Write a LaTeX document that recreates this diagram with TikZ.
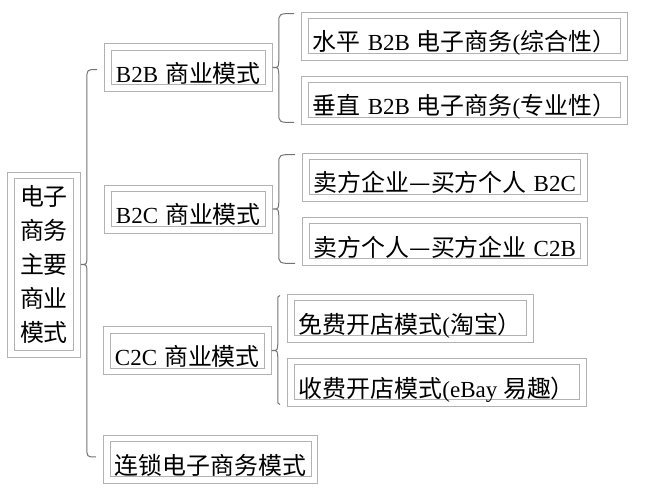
\documentclass[tikz,border=0pt]{standalone}
\usepackage{fontspec}
\setmainfont{Liberation Serif}
\newfontfamily\cjk{Noto Sans CJK SC}[Scale=1.04]
\usetikzlibrary{calc}

% wider gap between latin and chinese words
\newcommand{\gp}{\hspace{7pt}}

% curly brace: tip node anchor, top end, bottom end
\newcommand{\bracelink}[3]{%
  \draw[brc] let \p1=(#1), \p2=(#2), \p3=(#3) in
    (\x2-7pt,\y2-2pt) .. controls (\x1+6pt,\y2-2pt) .. (\x1+6pt,\y2-12pt)
    -- (\x1+6pt,\y1+9pt) .. controls (\x1+6pt,\y1) .. (\x1,\y1)
    .. controls (\x1+6pt,\y1) .. (\x1+6pt,\y1-9pt)
    -- (\x1+6pt,\y3+12pt) .. controls (\x1+6pt,\y3+2pt) .. (\x3-7pt,\y3+2pt);}

\begin{document}
\begin{tikzpicture}[x=1pt,y=-1pt,
    box/.style={draw=black!30, line width=.9pt,
      font=\fontsize{23}{34}\selectfont,
      append after command={\pgfextra{\draw[black!30, line width=.9pt]
        ([xshift=7pt,yshift=-7pt]\tikzlastnode.north west) rectangle
        ([xshift=-7pt,yshift=7pt]\tikzlastnode.south east);}}},
    item/.style={box, anchor=west, inner xsep=11.5pt, inner ysep=7pt,
      text height=32pt, text depth=2pt},
    brc/.style={draw=black!55, line width=1pt}]
    \useasboundingbox (0,0) rectangle (654,500);

    % Root
    \node[box, align=center, inner xsep=12.5pt, inner ysep=13.5pt,
      font={\cjk\fontsize{23}{34}\selectfont}] (root) at (44,264.5)
      {电子\\商务\\主要\\商业\\模式};

    % Business models
    \node[item] (b2b) at (104,67.5) {B2B\gp{\cjk 商业模式}};
    \node[item] (b2c) at (104,209) {B2C\gp{\cjk 商业模式}};
    \node[item] (c2c) at (103,350.5) {C2C\gp{\cjk 商业模式}};
    \node[item] (chain) at (103,459) {\cjk 连锁电子商务模式};

    % Sub types
    \node[item] (hor) at (301,36) {{\cjk 水平}\gp B2B\gp{\cjk 电子商务}({\cjk 综合性）}};
    \node[item] (ver) at (301,100) {{\cjk 垂直}\gp B2B\gp{\cjk 电子商务}({\cjk 专业性）}};
    \node[item] (sell1) at (302,177) {{\cjk 卖方企业—买方个人}\gp B2C};
    \node[item] (sell2) at (302,241) {{\cjk 卖方个人—买方企业}\gp C2B};
    \node[item] (free) at (287,318) {{\cjk 免费开店模式}({\cjk 淘宝）}};
    \node[item] (paid) at (287,382) {{\cjk 收费开店模式}(eBay {\cjk 易趣）}};

    % Braces
    \bracelink{root.east}{b2b.west}{chain.west}
    \bracelink{b2b.east}{hor.north west}{ver.south west}
    \bracelink{b2c.east}{sell1.north west}{sell2.south west}
    \bracelink{c2c.east}{free.north west}{paid.south west}
\end{tikzpicture}
\end{document}
